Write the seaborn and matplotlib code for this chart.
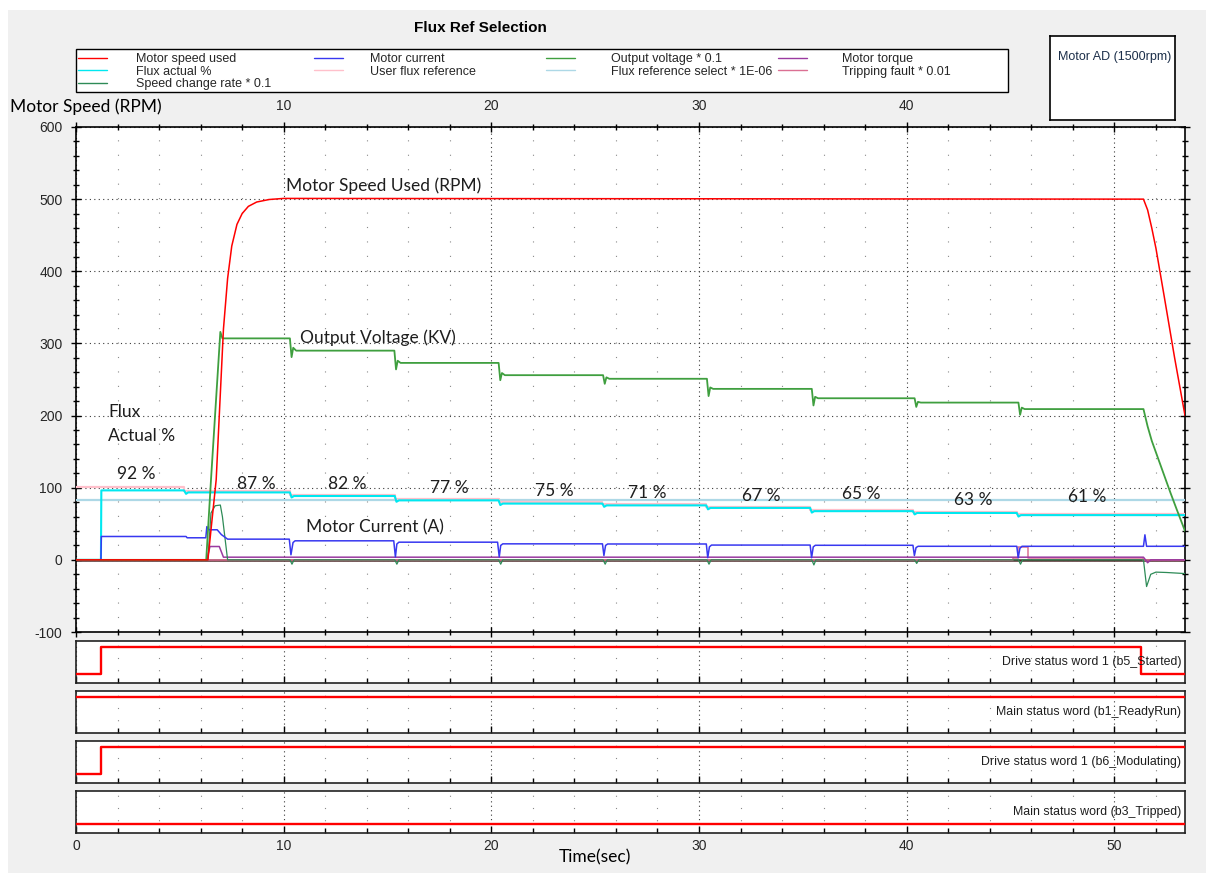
import matplotlib
matplotlib.use("Agg")
import matplotlib.pyplot as plt
import seaborn as sns
from matplotlib.ticker import MultipleLocator
from matplotlib.patches import Rectangle

# ---------------- data ----------------
T_END = 53.4

speed_t = [0, 6.35, 6.75, 7.1, 7.3, 7.5, 7.75, 8.0, 8.3, 8.7, 9.3, 10.0,
           51.4, 51.6, 51.8, 52.0, 52.4, 52.9, 53.4]
speed_v = [0, 0, 111, 320, 390, 435, 465, 480, 490, 496, 499.5, 501,
           500, 485, 460, 432, 365, 280, 200]

volt_t = [0, 6.27, 6.5, 6.95, 7.05, 10.3, 10.38, 10.46, 10.6,
          15.33, 15.41, 15.49, 15.63, 20.35, 20.43, 20.51, 20.65,
          25.38, 25.46, 25.54, 25.68, 30.38, 30.46, 30.54, 30.68,
          35.43, 35.51, 35.59, 35.73, 40.38, 40.46, 40.54, 40.68,
          45.38, 45.46, 45.54, 45.68, 51.4, 51.6, 51.8, 52.3, 52.7, 53.0, 53.4]
volt_v = [0, 0, 111, 316, 307, 307, 281, 294, 290,
          290, 264, 276, 273, 273, 249, 259, 256,
          256, 244, 253, 251, 251, 227, 239, 237,
          237, 214, 226, 224, 224, 212, 219, 218,
          218, 201, 211, 209, 209, 185, 165, 125, 93, 70, 40]

cur_t = [0, 1.2, 1.22, 5.3, 5.35, 6.25, 6.3, 6.4, 6.8, 7.0, 7.3,
         10.27, 10.35, 10.45, 10.55, 15.3, 15.38, 15.45, 15.55,
         20.3, 20.38, 20.45, 20.55, 25.35, 25.42, 25.5, 25.6,
         30.35, 30.42, 30.5, 30.6, 35.35, 35.42, 35.5, 35.6,
         40.3, 40.37, 40.45, 40.55, 45.3, 45.37, 45.45, 45.55,
         51.4, 51.47, 51.55, 53.4]
cur_v = [0, 0, 32.4, 32.4, 30.6, 30.6, 46, 41.7, 41.7, 35, 28.7,
         28.7, 7, 24, 26.4, 26.4, 4, 22, 24.5, 24.5, 4, 20, 22.2,
         22.2, 6, 20, 22.0, 22.0, 3, 18, 20.5, 20.5, 3, 18, 20.2,
         20.2, 6, 17, 18.8, 18.8, 3, 16, 18.8, 18.8, 34.7, 18.8, 18.8]

torque_t = [0, 6.3, 6.45, 6.9, 7.1, 51.4, 51.5, 51.6, 51.75, 53.4]
torque_v = [0, 0, 18.5, 18.5, 3.7, 3.7, 0, -4, 0, 0]

flux_t = [0, 1.2, 1.22, 5.2, 5.3, 5.4, 10.3, 10.38, 10.5, 15.35, 15.43, 15.55,
          20.35, 20.43, 20.55, 25.35, 25.43, 25.55, 30.35, 30.43, 30.55,
          35.35, 35.43, 35.55, 40.3, 40.38, 40.5, 45.3, 45.38, 45.5, 53.4]
flux_v = [0, 0, 96.3, 96.3, 91.5, 93.5, 93.5, 86.5, 88.5, 88.5, 80.5, 82.5,
          82.5, 76, 78, 78, 73.5, 75.5, 75.5, 70, 72, 72, 65.5, 67.5,
          67.5, 63, 65, 65, 60, 62, 62]

uref_t = [0, 5.2, 5.2, 10.3, 10.3, 15.35, 15.35, 20.35, 20.35, 25.35, 25.35,
          30.35, 30.35, 35.35, 35.35, 40.3, 40.3, 45.3, 45.3, 53.4]
uref_v = [101, 101, 95, 95, 90, 90, 84.7, 84.7, 79.6, 79.6, 77,
          77, 73.5, 73.5, 69, 69, 66.5, 66.5, 63.5, 63.5]

fsel_t = [0, 53.4]
fsel_v = [83.3, 83.3]

rate_t = [0, 6.35, 6.5, 6.7, 6.95, 7.05, 7.3,
          10.3, 10.4, 10.5, 15.35, 15.45, 15.55, 20.35, 20.45, 20.55,
          25.38, 25.48, 25.58, 30.38, 30.48, 30.58, 35.43, 35.53, 35.63,
          40.38, 40.48, 40.58, 45.38, 45.48, 45.58,
          51.4, 51.55, 51.75, 52.0, 52.5, 53.4]
rate_v = [0, 0, 65, 75, 76, 60, 0,
          0, -6, 0, 0, -6, 0, 0, -6, 0,
          0, -6, 0, 0, -6, 0, 0, -7, 0,
          0, -5, 0, 0, -6, 0,
          0, -37, -20, -17, -17.5, -19]

trip_t = [0, 45.1, 45.1, 45.35, 45.35, 45.85, 45.85, 51.4, 51.4, 53.4]
trip_v = [0, 0, 2.3, 2.3, 18, 18, 2.3, 2.3, 0, 0]

# digital status words
dig_names = ["Drive status word 1 (b5_Started)", "Main status word (b1_ReadyRun)",
             "Drive status word 1 (b6_Modulating)", "Main status word (b3_Tripped)"]
started_t, started_v = [0, 1.2, 51.3, 53.4], [0, 1, 0, 0]
ready_t, ready_v = [0, 53.4], [1, 1]
modul_t, modul_v = [0, 1.2, 53.4], [0, 1, 1]
tripped_t, tripped_v = [0, 53.4], [0, 0]

flux_labels = ["92 %", "87 %", "82 %", "77 %", "75 %", "71 %", "67 %", "65 %", "63 %", "61 %"]
flux_label_x = [2.9, 8.67, 13.06, 17.98, 23.04, 27.52, 33.0, 37.8, 43.2, 48.7]
flux_label_y = [119, 105.6, 105.6, 100, 95.8, 93, 88.9, 91.7, 83.3, 87.5]

top_ticks = [0, 10, 20, 30, 40, 50]
top_tick_labels = ["", "10", "20", "30", "40", "50"]

# ---------------- figure ----------------
sns.set_theme(style="white")
plt.rcParams['font.family'] = ['Liberation Sans', 'DejaVu Sans']
plt.rcParams['axes.unicode_minus'] = False
CAL = ['Lato', 'DejaVu Sans']

W, H = 1206, 873
def fx(px): return px / W
def fy(py): return 1 - py / H

fig = plt.figure(figsize=(W / 100, H / 100), dpi=100)
fig.patch.set_facecolor('white')
fig.add_artist(Rectangle((fx(8), 0), 1 - fx(8), fy(10), transform=fig.transFigure,
                         facecolor='#f0f0f0', edgecolor='none', zorder=-5))

ax = fig.add_axes([fx(76), fy(632), fx(1185) - fx(76), fy(127) - fy(632)])
ax.set_facecolor('white')


def draw(a, t, v, color, lw, label, z):
    sns.lineplot(x=t, y=v, ax=a, color=color, linewidth=lw, estimator=None,
                 sort=False, label=label, zorder=z)


ax.axhline(0, color='#4f2a2a', lw=1.8, zorder=2)
draw(ax, fsel_t, fsel_v, '#add8e6', 1.6, 'Flux reference select * 1E-06', 3)
draw(ax, uref_t, uref_v, '#ffc0cb', 1.6, 'User flux reference', 3)
draw(ax, flux_t, flux_v, '#00e8f0', 1.5, 'Flux actual %', 4)
draw(ax, trip_t, trip_v, '#db7093', 1.1, 'Tripping fault * 0.01', 4)
draw(ax, torque_t, torque_v, '#9a3aa0', 1.1, 'Motor torque', 5)
draw(ax, rate_t, rate_v, '#2e8b57', 0.9, 'Speed change rate * 0.1', 5)
draw(ax, cur_t, cur_v, '#3838f0', 1.1, 'Motor current', 6)
draw(ax, volt_t, volt_v, '#3f9f3f', 1.3, 'Output voltage * 0.1', 6)
draw(ax, speed_t, speed_v, '#ff0000', 1.1, 'Motor speed used', 7)

handles, labels = ax.get_legend_handles_labels()
hmap = dict(zip(labels, handles))
if ax.get_legend() is not None:
    ax.get_legend().remove()

ax.set_xlim(0, T_END)
ax.set_ylim(-100, 600)
ax.set_xlabel('')
ax.set_ylabel('')
ax.set_xticks(top_ticks, labels=top_tick_labels)
ax.xaxis.set_minor_locator(MultipleLocator(2))
ax.yaxis.set_major_locator(MultipleLocator(100))
ax.yaxis.set_minor_locator(MultipleLocator(20))
ax.tick_params(axis='x', which='both', top=True, bottom=True, labeltop=True,
               labelbottom=False, direction='inout', color='black')
ax.tick_params(axis='y', which='both', left=True, right=True, direction='inout', color='black')
ax.tick_params(which='major', length=7.5, width=1, labelsize=10, pad=6)
ax.tick_params(which='minor', length=4, width=1)
ax.grid(which='major', axis='both', color='#3a3a3a', linestyle=(0, (1, 3)), linewidth=0.8)
ax.grid(which='minor', axis='x', color='#8a8a8a', linestyle=(0, (1, 12)), linewidth=0.8)
for s in ax.spines.values():
    s.set_color('black')
    s.set_linewidth(1.2)

# annotations
tc = '#1e1e1e'
ax.text(10.12, 519, 'Motor Speed Used (RPM)', family=CAL, fontsize=12.5, color=tc, va='center', ha='left', zorder=8)
ax.text(10.8, 308, 'Output Voltage (KV)', family=CAL, fontsize=12.5, color=tc, va='center', ha='left', zorder=8)
ax.text(1.54, 205.6, 'Flux', family=CAL, fontsize=12.5, color=tc, va='center', ha='left', zorder=8)
ax.text(1.54, 171, 'Actual %', family=CAL, fontsize=12.5, color=tc, va='center', ha='left', zorder=8)
ax.text(11.08, 44.4, 'Motor Current (A)', family=CAL, fontsize=12.5, color=tc, va='center', ha='left', zorder=8)
for lx, ly, lt in zip(flux_label_x, flux_label_y, flux_labels):
    ax.text(lx, ly, lt, family=CAL, fontsize=12.5, color=tc, va='center', ha='center', zorder=8)

# axis titles
fig.text(fx(10), fy(107), 'Motor Speed (RPM)', family=CAL, fontsize=12.5, color='black', va='center', ha='left')
fig.text(fx(595), fy(857), 'Time(sec)', family=CAL, fontsize=12.5, color='black', va='center', ha='center')
fig.text(fx(480), fy(28), 'Flux Ref Selection', fontsize=11, fontweight='bold', color='black', va='center', ha='center')

# ---------------- digital panels ----------------
dig_series = [(started_t, started_v), (ready_t, ready_v), (modul_t, modul_v), (tripped_t, tripped_v)]
panel_tops = [641, 691, 741, 791]
for i, ((dt, dv), name, top) in enumerate(zip(dig_series, dig_names, panel_tops)):
    pa = fig.add_axes([fx(76), fy(top + 42), fx(1185) - fx(76), fy(top) - fy(top + 42)])
    pa.set_facecolor('white')
    sns.lineplot(x=dt, y=dv, ax=pa, color='#ff0000', linewidth=1.7, estimator=None,
                 sort=False, drawstyle='steps-post', zorder=4)
    pa.set_xlim(0, T_END)
    pa.set_ylim(-0.33, 1.22)
    pa.set_xlabel('')
    pa.set_ylabel('')
    pa.set_yticks([])
    pa.set_xticks(top_ticks)
    pa.xaxis.set_minor_locator(MultipleLocator(2))
    pa.tick_params(axis='x', which='both', direction='in', bottom=True, top=False, color='black',
                   labelbottom=(i == 3), labelsize=10, pad=4)
    pa.tick_params(axis='x', which='major', length=5, width=1)
    pa.tick_params(axis='x', which='minor', length=3.5, width=1)
    pa.grid(which='major', axis='x', color='#3a3a3a', linestyle=(0, (1, 3)), linewidth=0.8)
    pa.grid(which='minor', axis='x', color='#8a8a8a', linestyle=(0, (1, 10)), linewidth=0.8)
    for s in pa.spines.values():
        s.set_color('#222222')
        s.set_linewidth(1.2)
    pa.text(0.9965, 0.5, name, transform=pa.transAxes, ha='right', va='center', fontsize=8.9,
            color='#1e1e1e', zorder=6)

# ---------------- legend ----------------
fig.add_artist(Rectangle((fx(76), fy(92)), fx(1008) - fx(76), fy(49) - fy(92), transform=fig.transFigure,
                         facecolor='white', edgecolor='black', linewidth=1.0, zorder=1))
legend_cols = [
    (78, 2.3, ['Motor speed used', 'Flux actual %', 'Speed change rate * 0.1']),
    (314, 2.2, ['Motor current', 'User flux reference']),
    (546, 2.9, ['Output voltage * 0.1', 'Flux reference select * 1E-06']),
    (778, 2.8, ['Motor torque', 'Tripping fault * 0.01']),
]
for xpx, tpad, labs in legend_cols:
    leg = fig.legend([hmap[l] for l in labs], labs, loc='upper left',
                     bbox_to_anchor=(fx(xpx), fy(53)), frameon=False, fontsize=9,
                     handlelength=2.3, handletextpad=tpad, borderpad=0, labelspacing=0.05,
                     borderaxespad=0)
    for ln in leg.get_lines():
        ln.set_linewidth(1.0)
    leg.set_zorder(3)

# ---------------- motor box ----------------
bx = fig.add_axes([fx(1050), fy(120), fx(1175) - fx(1050), fy(36) - fy(120)])
bx.set_facecolor('white')
bx.set_xticks([])
bx.set_yticks([])
for s in bx.spines.values():
    s.set_color('black')
    s.set_linewidth(1.2)
bx.text(8 / 125, 1 - 21 / 84, 'Motor AD (1500rpm)', transform=bx.transAxes, ha='left', va='center',
        fontsize=9, color='#1c2f4a')

fig.savefig('out.png', dpi=100, facecolor=fig.get_facecolor())
